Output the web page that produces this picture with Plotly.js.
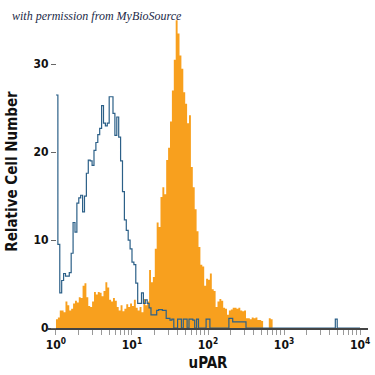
<!DOCTYPE html>
<html><head><meta charset="utf-8">
<script src="https://cdn.plot.ly/plotly-3.0.1.min.js"></script>
<style>html,body{margin:0;padding:0;background:#fff}#chart{width:375px;height:375px}</style>
</head><body><div id="chart"></div>
<script>
// histogram channels: log10 bin start and width
var binStartLog = 0;
var binStepLog = 0.025;

// isotype control (blue outline)
var controlCounts = [
 26.5, 9.5, 4.0, 5.4, 6.2, 5.9, 5.9, 6.3, 8.5, 12.0,
 10.9, 14.2, 14.8, 15.1, 13.2, 15.0, 17.6, 19.1, 19.0, 18.5,
 20.2, 21.1, 22.0, 22.7, 25.3, 23.3, 23.0, 23.3, 26.3, 26.3,
 24.4, 21.9, 24.0, 21.7, 19.0, 15.5, 12.3, 11.1, 10.0, 9.0,
 7.5, 7.2, 5.1, 2.8, 2.8, 4.0, 2.8, 3.2, 2.8, 2.3,
 1.5, 1.5, 1.5, 2.0, 2.1, 2.1, 2.0, 2.0, 1.1, 1.1,
 0.9, 1.0, 0, 0, 1.0, 1.0, 0, 1.0, 1.0, 0,
 1.0, 1.0, 0.9, 0, 1.0, 0, 0, 0, 0, 1.0,
 1.0, 0, 0, 0, 0, 0, 0, 0, 0, 0,
 0, 1.1, 1.1, 0.7, 0.7, 0.7, 0.7, 0.7, 0.7, 0.7,
 0, 0, 0, 0, 0, 0, 0, 0, 0, 0,
 0, 0, 0, 0, 0, 0, 0, 0, 0, 0,
 0, 0, 0, 0, 0, 0, 0, 0, 0, 0,
 0, 0, 0, 0, 0, 0, 0, 0, 0, 0,
 0, 0, 0, 0, 0, 0, 0, 1.0, 0, 0,
 0, 0, 0, 0, 0, 0, 0, 0, 0, 0
];

// uPAR stained (orange filled)
var uparCounts = [
 1.0, 1.2, 2.0, 2.0, 1.8, 3.0, 2.6, 2.0, 2.2, 2.8,
 3.1, 2.9, 3.5, 3.4, 4.8, 5.1, 3.5, 2.5, 2.4, 3.0,
 4.1, 3.8, 4.1, 4.0, 3.6, 4.2, 5.2, 4.6, 3.2, 3.0,
 3.4, 3.1, 2.4, 2.0, 2.6, 1.9, 2.2, 2.7, 2.4, 2.8,
 2.5, 3.2, 2.3, 2.0, 2.4, 1.8, 3.3, 2.6, 3.0, 6.6,
 5.2, 5.8, 9.0, 12.0, 11.5, 14.9, 16.0, 15.2, 19.1, 20.5,
 23.5, 27.0, 30.5, 35.0, 33.5, 31.0, 29.5, 26.8, 25.5, 23.3,
 24.2, 18.3, 16.0, 13.5, 11.0, 9.2, 7.2, 7.0, 4.8, 5.6,
 5.5, 6.2, 4.4, 4.2, 2.4, 3.0, 3.3, 3.1, 2.3, 2.2,
 1.5, 2.0, 2.1, 2.3, 2.3, 2.2, 2.3, 2.0, 1.9, 2.0,
 1.1, 1.1, 1.0, 1.2, 1.1, 1.2, 0.9, 0.9, 0.8, 0,
 0, 0, 1.1, 1.0
];

var majorTicks = [1, 10, 100, 1000, 10000];
var majorLabels = ['10<sup>0</sup>', '10<sup>1</sup>', '10<sup>2</sup>', '10<sup>3</sup>', '10<sup>4</sup>'];
var minorTicks = [2,3,4,5,6,7,8,9, 20,30,40,50,60,70,80,90, 200,300,400,500,600,700,800,900, 2000,3000,4000,5000,6000,7000,8000,9000];
var yTicks = [0, 10, 20, 30];

function stepXY(counts) {
  var xs = [], ys = [];
  for (var i = 0; i < counts.length; i++) {
    xs.push(Math.pow(10, binStartLog + i * binStepLog));
    ys.push(counts[i]);
  }
  xs.push(Math.pow(10, binStartLog + counts.length * binStepLog));
  ys.push(counts[counts.length - 1]);
  return {x: xs, y: ys};
}

var up = stepXY(uparCounts);
var ct = stepXY(controlCounts);

var font = "'DejaVu Sans Condensed', 'Liberation Sans Narrow', 'Roboto', sans-serif";

var traces = [
  {type: 'scatter', mode: 'lines', x: up.x, y: up.y, line: {shape: 'hv', width: 0, color: '#F8A01E'},
   fill: 'tozeroy', fillcolor: '#F8A01E', hoverinfo: 'skip', showlegend: false},
  {type: 'scatter', mode: 'lines', x: ct.x, y: ct.y, line: {shape: 'hv', width: 1.2, color: '#2C6088'},
   hoverinfo: 'skip', showlegend: false}
];

var layout = {
  width: 375, height: 375,
  margin: {l: 48, r: 7, t: 15, b: 47},
  paper_bgcolor: '#fff', plot_bgcolor: '#fff',
  font: {family: font, color: '#111', size: 12},
  xaxis: {
    type: 'log', range: [-0.105, 4.105],
    showgrid: false, zeroline: false,
    showline: true, linecolor: '#444', linewidth: 1.5,
    ticks: 'outside', ticklen: 5, tickwidth: 1, tickcolor: '#999',
    tickmode: 'array', tickvals: majorTicks, ticktext: majorLabels,
    minor: {tickmode: 'array', tickvals: minorTicks, ticks: 'outside', ticklen: 5, tickwidth: 1, tickcolor: '#999', showgrid: false},
    tickfont: {family: font, size: 12, color: '#111', weight: 600},
    title: {text: 'uPAR', font: {family: font, size: 15, color: '#111', weight: 600}, standoff: 6}
  },
  yaxis: {
    range: [0, 35.6], anchor: 'free', position: 0.105 / 4.21,
    showgrid: false, zeroline: false, showline: false,
    ticks: 'outside', ticklen: 5, tickwidth: 1, tickcolor: '#666',
    tickmode: 'array', tickvals: yTicks, ticktext: yTicks.map(String),
    tickfont: {family: font, size: 12, color: '#111', weight: 600},
    title: {text: 'Relative Cell Number', font: {family: font, size: 15, color: '#111', weight: 600}, standoff: 11}
  },
  shapes: [
    {type: 'line', xref: 'x', yref: 'y', x0: 0, x1: 0, y0: 0, y1: 33.9, line: {color: '#111', width: 1.2}}
  ],
  annotations: [
    {xref: 'paper', yref: 'paper', x: -0.12, y: 0.997, xanchor: 'left', yanchor: 'middle', showarrow: false,
     text: 'with permission from MyBioSource',
     font: {family: "'Liberation Serif', 'DejaVu Serif', serif", style: 'italic', size: 12, color: '#1c2a48'}}
  ]
};

Plotly.newPlot('chart', traces, layout, {displayModeBar: false, staticPlot: true});
</script>
</body></html>
